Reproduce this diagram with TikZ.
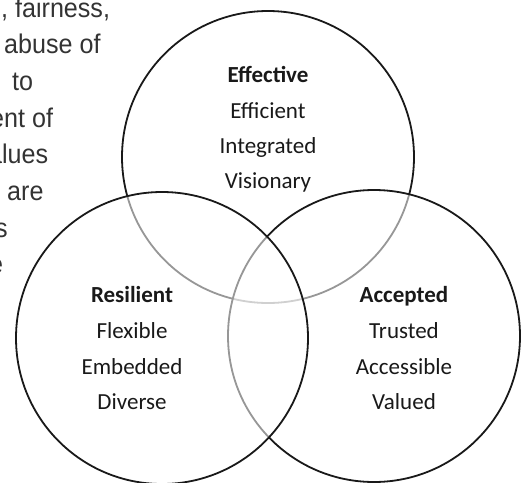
\documentclass[tikz,border=0pt]{standalone}
\usepackage{fontspec}
\newfontfamily\parafont[FakeStretch=0.93]{Liberation Sans}
\newfontfamily\labelfont{Carlito}

\begin{document}
\begin{tikzpicture}[x=1pt,y=-1pt,
ring/.style={circle, draw=black!90, line width=1.8pt, fill=white, fill opacity=0.55, minimum size=292pt, inner sep=0pt},
head/.style={font=\labelfont\bfseries\fontsize{23}{23}\selectfont, text=black!90, anchor=base, inner sep=0pt},
item/.style={font=\labelfont\fontsize{23}{23}\selectfont, text=black!90, anchor=base, inner sep=0pt},
para/.style={font=\parafont\fontsize{27}{27}\selectfont, text=black!80, anchor=base west, inner sep=0pt}
]
  \useasboundingbox (0,0) rectangle (522,482);
  \clip (0,0) rectangle (522,482);

  % cut-off body text on the left
  \node[para] (p1) at (1,17) {, fairness,};
  \node[para] (p2) at (4,53) {abuse of};
  \node[para] (p3) at (12,90) {to};
  \node[para] (p4) at (-10,127) {ent of};
  \node[para] (p5) at (-12,163) {alues};
  \node[para] (p6) at (7,200) {are};
  \node[para] (p7) at (-5,237) {s};
  \node[para] (p8) at (-11,273) {e};

  % circles, bottom to top
  \node[ring] (T) at (268,157) {};
  \node[ring] (R) at (374,336) {};
  \node[ring] (L) at (162,338) {};

  \node[head] (t0) at (268,82) {Effective};
  \node[item] (t1) at (268,118) {Efficient};
  \node[item] (t2) at (268,153) {Integrated};
  \node[item] (t3) at (268,188) {Visionary};

  \node[head] (l0) at (132,302) {Resilient};
  \node[item] (l1) at (132,338) {Flexible};
  \node[item] (l2) at (132,374) {Embedded};
  \node[item] (l3) at (132,409) {Diverse};

  \node[head] (r0) at (404,302) {Accepted};
  \node[item] (r1) at (404,338) {Trusted};
  \node[item] (r2) at (404,374) {Accessible};
  \node[item] (r3) at (404,409) {Valued};
\end{tikzpicture}
\end{document}
